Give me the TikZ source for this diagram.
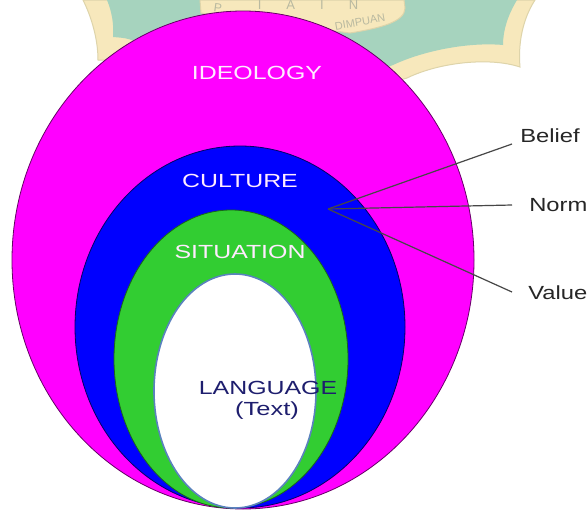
\documentclass[tikz,border=0pt]{standalone}
\usepackage{fontspec}
\setmainfont{Liberation Sans}
\definecolor{wmgreen}{RGB}{166,211,190}
\definecolor{wmtan}{RGB}{247,232,188}
\definecolor{wmedge}{RGB}{222,212,170}
\definecolor{wmtext}{RGB}{185,185,160}
\definecolor{ideo}{RGB}{255,0,255}
\definecolor{cult}{RGB}{0,0,255}
\definecolor{situ}{RGB}{50,205,50}
\definecolor{langedge}{RGB}{90,130,190}
\definecolor{langtxt}{RGB}{30,30,110}
\tikzset{
  x=1pt,y=-1pt,
  ring/.style={draw=#1,line width=0.8pt},
  lead/.style={draw=black!72,line width=1.2pt},
  inner/.style={font=\fontsize{19}{22}\selectfont,text=white!92!ideo,inner sep=0pt,xscale=1.31},
  side/.style={font=\fontsize{19}{22}\selectfont,text=black!85,inner sep=0pt,anchor=west,xscale=1.25},
  faint/.style={text=wmtext,inner sep=0pt},
}
\begin{document}
\begin{tikzpicture}
\useasboundingbox (0,0) rectangle (588,509);
\fill[white] (0,0) rectangle (588,509);
% faded background crest
\fill[wmtan,draw=wmedge,line width=1pt] (83,0) .. controls (92,18) and (98,40) .. (98,60) -- (150,60) -- (300,110) -- (407,78) .. controls (440,62) and (490,57) .. (520,67) .. controls (518,45) and (522,20) .. (535,0) -- cycle;
\fill[wmgreen] (107,0) .. controls (112,12) and (114,25) .. (113,37) .. controls (125,38) and (135,38) .. (145,50) -- (300,100) -- (393,65) .. controls (425,50) and (470,42) .. (503,45) .. controls (503,30) and (508,15) .. (517,0) -- cycle;
\fill[wmtan,draw=wmedge,line width=1pt] (200,0) -- (201,13) -- (350,33) .. controls (380,28) and (405,22) .. (405,8) -- (404,0) -- cycle;
\node[faint,font=\fontsize{11}{13}\selectfont,rotate=10] (wm1) at (360,22) {DIMPUAN};
\node[faint,font=\fontsize{13}{15}\selectfont] (wm2) at (308,5) {I\hspace{25pt}A\hspace{25pt}I\hspace{25pt}N};
\node[faint,font=\fontsize{12}{14}\selectfont,rotate=-8] (wm3) at (218,8) {P};
% nested ellipses
\path[fill=ideo,ring=black!60!ideo] (243,260) ellipse [x radius=231,y radius=249] node (ideoShape) {};
\path[fill=cult,ring=black!60!cult] (240,327) ellipse [x radius=165,y radius=181] node (cultShape) {};
\path[fill=situ,ring=black!50!situ] (231,359) ellipse [x radius=117,y radius=149] node (situShape) {};
\path[fill=white,draw=langedge,line width=1.6pt] (235,391) ellipse [x radius=81,y radius=117] node (langShape) {};
% labels
\node[inner] (ideology) at (257,73) {IDEOLOGY};
\node[inner] (culture) at (240,181) {CULTURE};
\node[inner] (situation) at (240,252) {SITUATION};
\node[inner,text=langtxt] (language) at (268,388) {LANGUAGE};
\node[font=\fontsize{19}{22}\selectfont,text=langtxt,inner sep=0pt,xscale=1.34] (textlbl) at (267,411) {(Text)};
\node[side] (belief) at (520,136) {Belief};
\node[side] (norm) at (529,205) {Norm};
\node[side] (value) at (528,293) {Value};
% leaders
\coordinate (hub) at (328,209);
\coordinate (bEnd) at (512,144);
\coordinate (nEnd) at (512,205);
\coordinate (vEnd) at (512,292);
\draw[lead] (hub) -- (bEnd);
\draw[lead] (hub) -- (nEnd);
\draw[lead] (hub) -- (vEnd);
\end{tikzpicture}
\end{document}
